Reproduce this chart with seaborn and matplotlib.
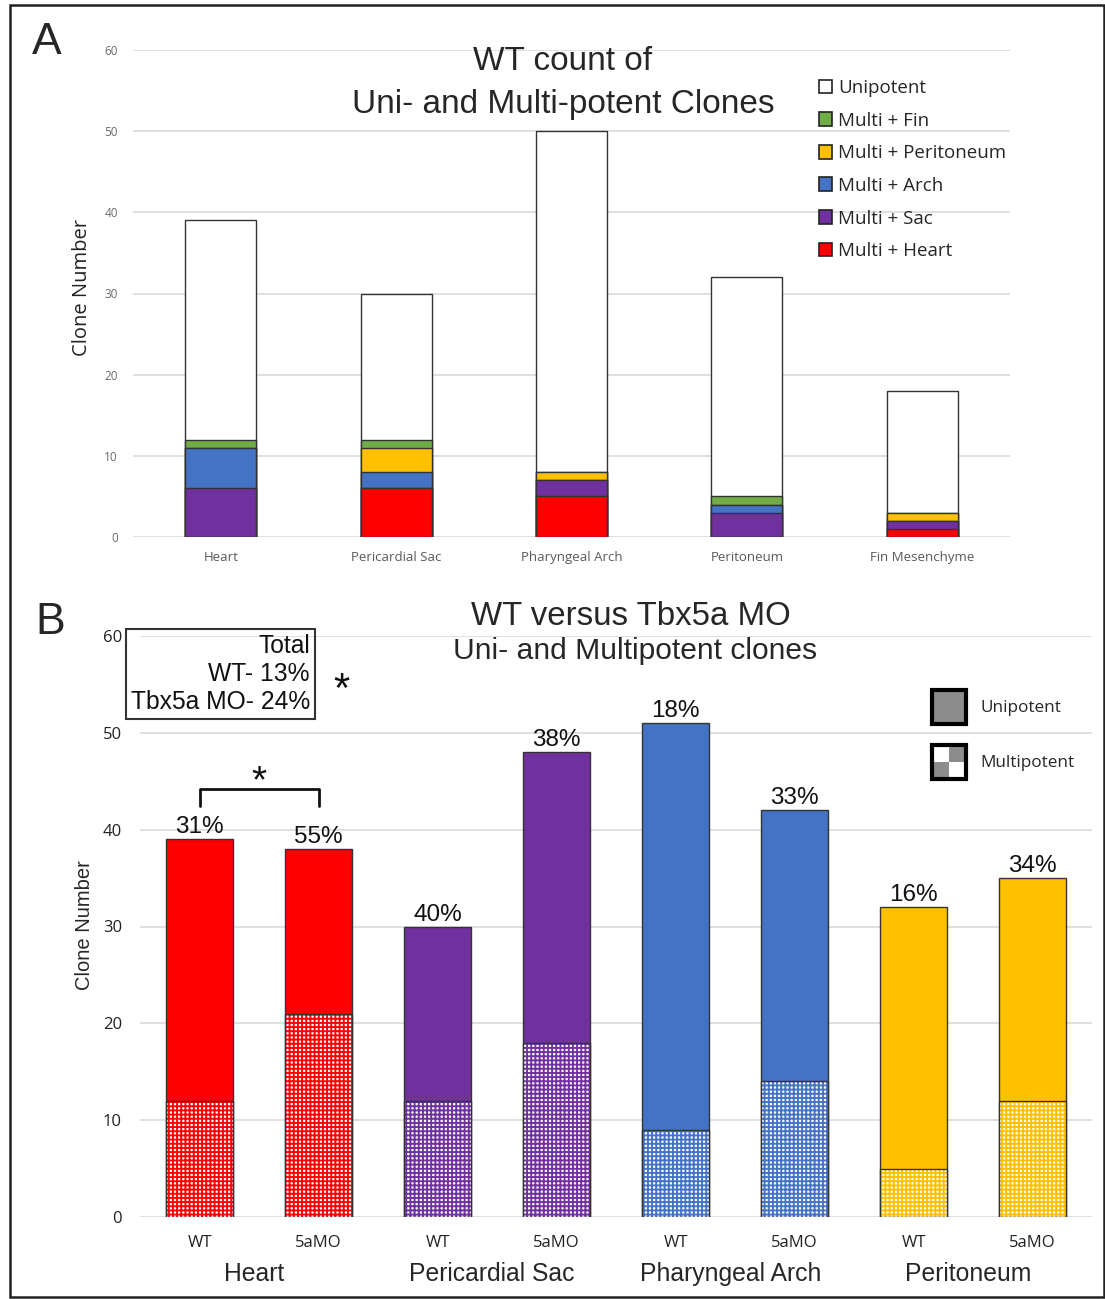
import numpy as np
import pandas as pd
import matplotlib
matplotlib.use("Agg")
import matplotlib.pyplot as plt
import matplotlib.transforms as mtransforms
import seaborn as sns
from matplotlib.patches import Patch, Rectangle
from matplotlib.legend_handler import HandlerBase

# ---------------- data: panel A ----------------
categories_A = ["Heart", "Pericardial Sac", "Pharyngeal Arch", "Peritoneum", "Fin Mesenchyme"]
multi_heart = [0, 6, 5, 0, 1]
multi_sac = [6, 0, 2, 3, 1]
multi_arch = [5, 2, 0, 1, 0]
multi_perit = [0, 3, 1, 0, 1]
multi_fin = [1, 1, 0, 1, 0]
unipotent_A = [27, 18, 42, 27, 15]
seg_names = ["Multi + Heart", "Multi + Sac", "Multi + Arch", "Multi + Peritoneum", "Multi + Fin", "Unipotent"]
seg_colors = ["#FF0000", "#7030A0", "#4472C4", "#FFC000", "#70AD47", "#FFFFFF"]
yticks_A = [0, 10, 20, 30, 40, 50, 60]

# ---------------- data: panel B ----------------
tissues_B = ["Heart", "Pericardial Sac", "Pharyngeal Arch", "Peritoneum"]
conditions_B = ["WT", "5aMO"]
tissue_colors_B = ["#FF0000", "#7030A0", "#4472C4", "#FFC000"]
total_B = [39, 38, 30, 48, 51, 42, 32, 35]
multi_B = [12, 21, 12, 18, 9, 14, 5, 12]
pct_B = ["31%", "55%", "40%", "38%", "18%", "33%", "16%", "34%"]
yticks_B = [0, 10, 20, 30, 40, 50, 60]

sns.set_theme(style="white")
plt.rcParams["font.family"] = ["Liberation Sans", "DejaVu Sans"]
plt.rcParams["hatch.linewidth"] = 1.35

W, H = 1105, 1299
fig = plt.figure(figsize=(W / 100, H / 100), dpi=100)


def fx(px):
    return px / W


def fy(py):
    return 1 - py / H


CAL = ["Open Sans", "DejaVu Sans"]

# ================= Panel A =================
axA = fig.add_axes([fx(133), fy(537), (1010 - 133) / W, (537 - 50) / H])
seg_values = np.array([multi_heart, multi_sac, multi_arch, multi_perit, multi_fin, unipotent_A])
cum = np.cumsum(seg_values, axis=0)
for i in reversed(range(len(seg_names))):
    sns.barplot(x=categories_A, y=cum[i], color=seg_colors[i], saturation=1,
                width=0.405, edgecolor="#333333", linewidth=1.0, ax=axA)
axA.set_ylim(0, 60)
axA.set_xlim(-0.5, len(categories_A) - 0.5)
axA.set_yticks(yticks_A)
axA.set_yticklabels([str(v) for v in yticks_A], fontsize=8.5, color="#6b6b6b", family=CAL)
axA.set_xticks(range(len(categories_A)))
axA.set_xticklabels(categories_A, fontsize=9.5, color="#595959", family=CAL)
axA.tick_params(axis="y", length=0, pad=11)
axA.tick_params(axis="x", length=0, pad=10)
axA.yaxis.grid(True, color="#DADADA", linewidth=1.2)
axA.set_axisbelow(True)
for s in axA.spines.values():
    s.set_visible(False)
axA.set_xlabel("")
axA.set_ylabel("")

fig.text(fx(82), fy(288), "Clone Number", rotation=90, ha="center", va="center",
         fontsize=14.5, family=CAL, color="#222222")
fig.text(fx(563), fy(62), "WT count of", ha="center", va="center", fontsize=24)
fig.text(fx(563), fy(104), "Uni- and Multi-potent Clones", ha="center", va="center", fontsize=24)
fig.text(fx(47), fy(42), "A", ha="center", va="center", fontsize=32)

handlesA = [Patch(facecolor=c, edgecolor="#222222", linewidth=1.2) for c in seg_colors][::-1]
fig.legend(handlesA, seg_names[::-1], loc="upper left", bbox_to_anchor=(fx(819), fy(79)),
           frameon=False, prop={"family": CAL, "size": 13.5}, handlelength=0.7,
           handleheight=0.75, handletextpad=0.3, labelspacing=0.78, borderpad=0,
           borderaxespad=0)

# ================= Panel B =================
axB = fig.add_axes([fx(140), fy(1217), (1092 - 140) / W, (1217 - 636) / H])
bar_ids = [f"{t} {c}" for t in tissues_B for c in conditions_B]
bar_colors = [c for c in tissue_colors_B for _ in conditions_B]
sns.barplot(x=bar_ids, y=total_B, hue=bar_ids, palette=bar_colors, saturation=1,
            width=0.56, edgecolor="#333333", linewidth=1.0, legend=False, ax=axB)
n0 = len(axB.patches)
sns.barplot(x=bar_ids, y=multi_B, color="white", saturation=1, width=0.56,
            linewidth=0, ax=axB)
for p, c in zip(axB.patches[n0:], bar_colors):
    p.set_facecolor("white")
    p.set_edgecolor(c)
    p.set_linewidth(0)
    p.set_hatch("++++")
sns.barplot(x=bar_ids, y=multi_B, fill=False, color="#333333", width=0.56,
            linewidth=1.0, ax=axB)
for p in axB.patches[n0 + len(bar_ids):]:
    p.set_edgecolor("#333333")
    p.set_facecolor("none")

axB.set_ylim(0, 60)
axB.set_xlim(-0.5, len(bar_ids) - 0.5)
axB.set_yticks(yticks_B)
axB.set_yticklabels([str(v) for v in yticks_B], fontsize=12, color="#222222", family=CAL)
axB.set_xticks(range(len(bar_ids)))
axB.set_xticklabels(conditions_B * len(tissues_B), fontsize=12, color="#222222", family=CAL)
axB.tick_params(axis="y", length=0, pad=13)
axB.tick_params(axis="x", length=0, pad=13)
axB.yaxis.grid(True, color="#DADADA", linewidth=1.2)
axB.set_axisbelow(True)
for s in axB.spines.values():
    s.set_visible(False)
axB.set_xlabel("")
axB.set_ylabel("")

trans = mtransforms.blended_transform_factory(axB.transData, axB.transAxes)
for i, t in enumerate(tissues_B):
    axB.text(2 * i + 0.46, -0.0975, t, transform=trans, ha="center", va="center", fontsize=17.8)

for i, (tot, pct) in enumerate(zip(total_B, pct_B)):
    axB.text(i, tot + 0.1, pct, ha="center", va="bottom", fontsize=17.5, color="#111111")

# significance bracket over Heart
axB.plot([0, 0, 1, 1], [42.4, 44.2, 44.2, 42.4], color="#111111", linewidth=2, clip_on=False)
axB.text(0.5, 44.9, "*", ha="center", va="center", fontsize=28, color="#111111")

fig.text(fx(310), fy(674), "Total\nWT- 13%\nTbx5a MO- 24%", ha="right", va="center",
         multialignment="right", fontsize=17.7, linespacing=1.22, color="#111111",
         bbox=dict(boxstyle="square,pad=0.2", facecolor="none", edgecolor="#333333", linewidth=1.5))
fig.text(fx(341), fy(691), "*", ha="center", va="center", fontsize=30, color="#111111")

fig.text(fx(631), fy(616), "WT versus Tbx5a MO", ha="center", va="center", fontsize=23.8)
fig.text(fx(635), fy(651), "Uni- and Multipotent clones", ha="center", va="center", fontsize=21.6)
fig.text(fx(50), fy(622), "B", ha="center", va="center", fontsize=32)
fig.text(fx(85), fy(925), "Clone Number", rotation=90, ha="center", va="center", fontsize=14.5)


class Checker:
    pass


class CheckerHandler(HandlerBase):
    def create_artists(self, legend, orig_handle, xdescent, ydescent, width, height, fontsize, trans):
        s = min(width, height)
        x0, y0 = -xdescent, -ydescent
        h = s / 2
        arts = [
            Rectangle((x0, y0), s, s, facecolor="white", edgecolor="none", transform=trans),
            Rectangle((x0 + h, y0 + h), h, h, facecolor="#8C8C8C", edgecolor="none", transform=trans),
            Rectangle((x0, y0), h, h, facecolor="#8C8C8C", edgecolor="none", transform=trans),
            Rectangle((x0, y0), s, s, facecolor="none", edgecolor="black", linewidth=3, transform=trans),
        ]
        return arts


handlesB = [Patch(facecolor="#8C8C8C", edgecolor="black", linewidth=3), Checker()]
fig.legend(handlesB, ["Unipotent", "Multipotent"], handler_map={Checker: CheckerHandler()},
           loc="upper left", bbox_to_anchor=(fx(932), fy(690)), frameon=False,
           prop={"family": CAL, "size": 12.3}, handlelength=1.99, handleheight=2.68,
           handletextpad=0.82, labelspacing=1.23, borderpad=0, borderaxespad=0)

# outer frame
fig.add_artist(Rectangle((fx(10), fy(1297)), (1104 - 10) / W, (1297 - 5) / H,
                         transform=fig.transFigure, fill=False, edgecolor="#222222", linewidth=1.8))

fig.savefig("out.png", dpi=100)
